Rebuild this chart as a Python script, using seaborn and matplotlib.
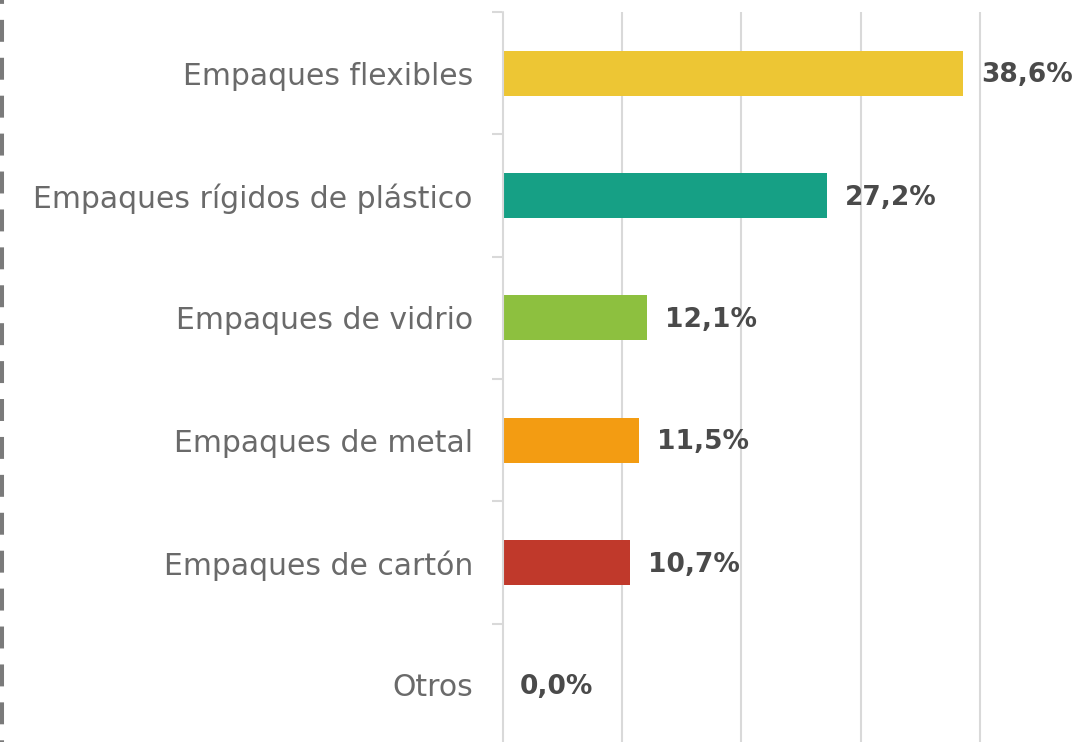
import matplotlib
matplotlib.use("Agg")
import matplotlib.pyplot as plt
import seaborn as sns
import pandas as pd
from matplotlib.lines import Line2D

categories = ["Empaques flexibles", "Empaques rígidos de plástico", "Empaques de vidrio",
              "Empaques de metal", "Empaques de cartón", "Otros"]
values = [38.6, 27.2, 12.1, 11.5, 10.7, 0.0]
colors = ["#EDC634", "#16A085", "#8DC03F", "#F39C12", "#C0392B", "#999999"]

sns.set_style("white")
plt.rcParams["font.family"] = ["DejaVu Sans"]
plt.rcParams["lines.scale_dashes"] = False

df = pd.DataFrame({"cat": categories, "val": values})

W, H = 1079, 742
fig = plt.figure(figsize=(W / 100, H / 100), dpi=100)
ax_left = 502 / W
ax_top = 1 - 12 / H
ax_bottom = -4 / H
ax = fig.add_axes([ax_left, ax_bottom, 1 - ax_left, ax_top - ax_bottom])

sns.barplot(data=df, y="cat", x="val", hue="cat", palette=colors, legend=False,
            width=0.37, orient="h", ax=ax, saturation=1, zorder=3, linewidth=0)

xmax = (W - 502) / 11.95
ax.set_xlim(0, xmax)
ax.set_ylim(5.5, -0.5)
ax.set_xticks([10, 20, 30, 40])
ax.xaxis.grid(True, color="#d9d9d9", linewidth=1.5, zorder=0)
ax.set_axisbelow(True)
ax.tick_params(axis="x", length=0, labelbottom=False)
ax.set_xlabel("")
ax.set_ylabel("")

for s in ["top", "right", "bottom", "left"]:
    ax.spines[s].set_visible(False)

ax.set_yticks(range(len(categories)))
ax.set_yticklabels(categories)
ax.tick_params(axis="y", which="major", left=True, length=0, pad=21, labelsize=21.5, labelcolor="#6a6a6a")
ax.set_yticks([i - 0.5 for i in range(len(categories) + 1)], minor=True)
ax.tick_params(axis="y", which="minor", left=True, length=7.2, width=1.5, color="#d9d9d9")

for i, v in enumerate(values):
    ax.annotate(f"{v:.1f}".replace(".", ",") + "%", xy=(v, i), xytext=(13, -1.5),
                textcoords="offset points", va="center", ha="left",
                fontsize=19, fontweight="bold", color="#4a4a4a", annotation_clip=False)

spine = Line2D([(502 + 0.5) / W, (502 + 0.5) / W], [ax_top, 0], transform=fig.transFigure,
               color="#d9d9d9", linewidth=1.5, zorder=5)
fig.add_artist(spine)

dash = Line2D([2 / W, 2 / W], [1, 0], transform=fig.transFigure, color="#7a7a7a",
              linewidth=2.9, linestyle=(13, (15.8, 11.5)))
fig.add_artist(dash)

fig.savefig("out.png", dpi=100)
